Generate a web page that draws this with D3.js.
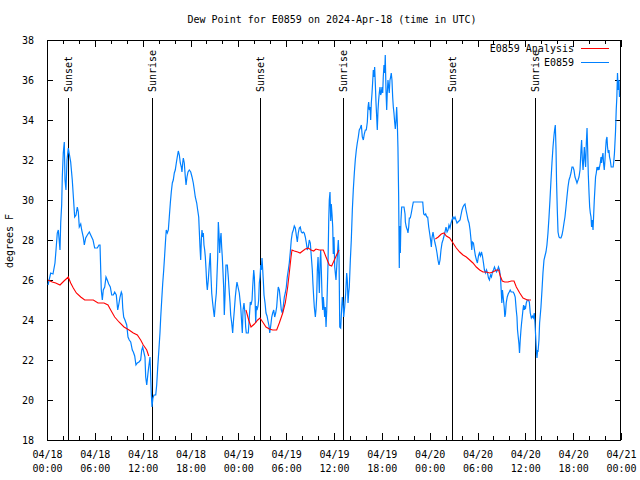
<!DOCTYPE html>
<html>
<head>
<meta charset="utf-8">
<script src="https://cdn.jsdelivr.net/npm/d3@7"></script>
<style>
  html, body { margin: 0; padding: 0; background: #fff; }
  svg { display: block; }
  text { font-family: "DejaVu Sans Mono", "Liberation Mono", monospace; font-size: 10px; fill: #000; }
</style>
</head>
<body>
<svg id="chart" width="640" height="480"></svg>
<script>
// ---------------- DATA ----------------
const titleText = "Dew Point for E0859 on 2024-Apr-18 (time in UTC)";
const yLabel = "degrees F";
const startUTC = Date.UTC(2024, 3, 18, 0, 0);   // 04/18 00:00 UTC
const endUTC = Date.UTC(2024, 3, 21, 0, 0);     // 04/21 00:00 UTC
const yTicks = [18, 20, 22, 24, 26, 28, 30, 32, 34, 36, 38];
const seriesNames = ["E0859 Analysis", "E0859"];

// sun events, hours after 04/18 00:00 UTC
const eventNames = ["Sunset", "Sunrise", "Sunset", "Sunrise", "Sunset", "Sunrise"];
const eventHours = [2.67, 13.21, 26.74, 37.18, 50.84, 61.25];

// observed dew point (E0859): hours after start, degrees F
const obsHours = [0.13,0.46,0.75,1.00,1.13,1.29,1.42,1.63,1.72,1.84,1.92,2.04,2.17,2.26,2.38,2.51,2.67,2.80,2.97,3.17,3.39,3.47,3.64,3.80,3.93,4.05,4.23,4.35,4.55,4.68,4.85,5.06,5.31,5.48,5.77,5.98,6.31,6.52,6.65,6.81,6.94,7.06,7.24,7.40,7.56,7.74,7.94,8.12,8.32,8.49,8.69,8.87,8.99,9.16,9.32,9.41,9.50,9.62,9.78,10.00,10.16,10.32,10.50,10.70,10.83,11.00,11.16,11.33,11.54,11.75,11.88,12.00,12.29,12.38,12.51,12.71,12.92,13.08,13.17,13.29,13.42,13.64,13.76,13.89,14.05,14.17,14.26,14.39,14.51,14.64,14.76,14.89,14.96,15.09,15.22,15.34,15.47,15.59,15.72,15.84,15.97,16.09,16.22,16.34,16.47,16.60,16.72,16.85,16.93,17.02,17.10,17.22,17.35,17.44,17.56,17.69,17.85,18.03,18.19,18.35,18.48,18.60,18.78,18.90,19.03,19.10,19.19,19.28,19.36,19.44,19.53,19.61,19.69,19.78,19.86,19.94,20.03,20.11,20.23,20.36,20.48,20.57,20.66,20.78,20.91,20.99,21.11,21.24,21.32,21.41,21.49,21.57,21.66,21.74,21.83,21.91,21.99,22.08,22.16,22.24,22.33,22.45,22.62,22.74,22.87,22.96,23.04,23.17,23.29,23.37,23.50,23.62,23.75,23.83,23.96,24.12,24.30,24.42,24.50,24.59,24.71,24.84,24.92,25.00,25.13,25.25,25.38,25.50,25.59,25.72,25.80,25.93,26.01,26.09,26.18,26.26,26.34,26.47,26.55,26.63,26.72,26.81,26.88,26.97,27.06,27.13,27.22,27.35,27.47,27.60,27.72,27.85,27.94,28.06,28.19,28.31,28.44,28.56,28.69,28.81,28.94,29.01,29.14,29.27,29.39,29.52,29.64,29.77,29.89,30.02,30.14,30.27,30.39,30.52,30.64,30.77,30.90,31.02,31.15,31.27,31.40,31.52,31.65,31.77,31.90,32.02,32.15,32.27,32.40,32.53,32.65,32.78,32.90,33.03,33.15,33.28,33.36,33.45,33.53,33.66,33.74,33.83,33.91,34.00,34.08,34.16,34.25,34.33,34.41,34.50,34.59,34.66,34.75,34.83,34.91,35.00,35.09,35.16,35.25,35.34,35.41,35.50,35.59,35.66,35.75,35.84,35.91,36.00,36.09,36.25,36.34,36.46,36.54,36.63,36.72,36.84,36.97,37.04,37.13,37.22,37.34,37.47,37.59,37.67,37.76,37.84,37.92,38.05,38.17,38.30,38.42,38.55,38.67,38.80,38.92,39.05,39.17,39.30,39.43,39.55,39.68,39.80,39.93,40.05,40.18,40.27,40.35,40.43,40.52,40.60,40.68,40.77,40.85,40.93,41.02,41.10,41.18,41.27,41.35,41.43,41.52,41.60,41.68,41.77,41.85,41.93,42.02,42.11,42.18,42.27,42.36,42.43,42.52,42.61,42.68,42.77,42.86,42.93,43.02,43.11,43.18,43.27,43.36,43.44,43.52,43.61,43.69,43.77,43.86,43.94,44.02,44.11,44.19,44.24,44.32,44.40,44.49,44.66,44.78,44.91,44.95,45.07,45.20,45.28,45.37,45.45,45.57,45.70,45.83,45.95,46.20,46.45,46.70,46.95,47.13,47.25,47.38,47.50,47.63,47.75,47.88,48.01,48.13,48.21,48.29,48.42,48.54,48.67,48.79,48.92,49.04,49.17,49.30,49.42,49.55,49.67,49.80,49.92,50.05,50.18,50.30,50.42,50.55,50.68,50.80,50.93,51.05,51.18,51.30,51.43,51.55,51.68,51.81,51.93,52.06,52.18,52.31,52.43,52.56,52.69,52.81,52.94,53.07,53.19,53.28,53.36,53.49,53.62,53.74,53.87,53.99,54.12,54.24,54.37,54.50,54.62,54.75,54.87,55.00,55.13,55.25,55.38,55.50,55.63,55.75,55.88,56.00,56.13,56.26,56.38,56.51,56.63,56.76,56.88,56.97,57.05,57.13,57.22,57.35,57.43,57.51,57.60,57.73,57.85,57.98,58.10,58.23,58.36,58.48,58.61,58.73,58.86,58.95,59.02,59.11,59.20,59.27,59.36,59.45,59.53,59.61,59.70,59.78,59.87,59.95,60.03,60.12,60.24,60.37,60.50,60.62,60.75,60.87,61.00,61.12,61.21,61.29,61.38,61.46,61.54,61.59,61.71,61.79,61.96,62.09,62.21,62.34,62.46,62.59,62.71,62.84,62.97,63.09,63.22,63.34,63.47,63.60,63.67,63.76,63.85,63.92,64.01,64.10,64.22,64.35,64.47,64.60,64.72,64.85,64.97,65.10,65.22,65.35,65.48,65.60,65.73,65.85,65.98,66.10,66.23,66.36,66.48,66.61,66.73,66.86,66.98,67.06,67.15,67.24,67.31,67.40,67.49,67.56,67.65,67.74,67.82,67.90,67.99,68.07,68.15,68.24,68.31,68.40,68.49,68.56,68.65,68.74,68.81,68.90,68.99,69.06,69.15,69.24,69.31,69.40,69.49,69.56,69.65,69.74,69.81,69.90,69.99,70.06,70.15,70.24,70.31,70.40,70.49,70.56,70.65,70.77,70.90,71.02,71.11,71.18,71.31,71.40,71.48,71.56,71.65,71.74,71.81];
const obsValues = [25.75,26.35,26.3,26.85,27.5,28.35,28.5,27.5,28.85,29.75,31.15,32.35,32.9,31.0,30.5,32.0,32.6,32.3,31.9,31.0,29.65,29.15,29.25,29.65,29.4,28.65,28.8,28.5,28.15,27.75,28.1,28.25,28.4,28.25,28.0,27.6,27.6,27.75,27.75,25.5,25.0,25.5,25.65,26.15,26.0,25.8,25.65,25.25,25.25,25.4,25.25,24.5,24.75,25.15,25.4,25.3,24.6,24.15,24.0,23.75,23.15,23.0,22.9,22.5,22.4,22.2,21.75,21.85,21.9,22.0,22.5,22.65,22.15,21.15,20.75,21.5,22.15,20.35,19.65,20.1,20.25,20.25,20.75,21.65,22.6,23.35,24.1,25.0,25.8,26.5,27.25,28.1,28.5,28.35,28.5,29.15,29.85,30.4,30.85,31.0,31.35,31.5,31.85,32.15,32.45,32.25,31.85,31.65,31.4,31.85,32.1,31.85,31.15,30.75,31.15,31.4,31.5,31.4,31.15,30.85,30.5,30.15,29.85,29.5,29.15,28.5,27.65,27.0,28.0,28.5,28.15,28.35,27.75,27.5,27.15,26.6,25.85,25.5,26.0,26.75,27.35,26.2,25.35,24.85,24.4,24.15,24.8,25.35,26.2,27.15,28.9,28.35,27.35,28.0,28.35,27.65,27.15,26.35,25.65,24.25,25.2,26.75,26.75,26.15,25.35,24.85,24.25,23.85,23.35,23.85,24.5,25.15,25.65,25.9,25.65,25.35,24.65,23.85,23.35,24.5,24.85,24.3,23.65,23.35,23.35,23.35,24.15,24.9,24.75,25.0,25.65,26.5,26.15,25.15,23.85,24.7,24.5,24.7,25.0,25.85,26.15,26.75,26.5,27.1,26.5,26.0,25.25,24.85,24.35,24.2,23.95,23.7,23.35,23.7,24.15,24.35,24.5,24.15,24.35,24.65,25.35,25.65,25.5,25.0,24.5,24.35,24.7,25.15,25.35,25.65,26.15,26.5,26.85,27.4,28.0,28.35,28.5,28.7,28.6,28.25,27.9,28.35,28.6,28.65,28.4,28.35,28.4,28.35,28.15,27.85,27.5,27.65,28.0,27.85,27.2,26.5,25.8,25.15,24.65,24.15,24.5,25.15,26.5,27.15,26.3,25.35,26.85,27.5,26.5,25.15,24.5,25.15,24.65,24.15,24.65,23.65,24.5,25.5,26.85,29.0,30.0,30.4,28.95,29.8,29.3,28.65,27.3,28.15,26.65,26.0,26.65,27.5,28.0,27.15,23.65,23.6,24.65,25.15,24.85,24.15,24.65,25.35,26.35,26.0,24.85,25.35,25.65,27.0,28.0,29.5,30.5,31.35,32.0,32.5,32.85,33.15,33.5,33.6,33.75,33.15,33.0,33.3,33.5,33.5,33.9,34.65,34.9,34.5,34.65,34.0,34.85,35.35,35.9,36.5,36.15,36.65,35.85,34.85,34.2,33.5,34.5,35.0,35.35,35.65,35.25,35.35,35.65,35.35,36.15,36.75,36.35,37.25,35.5,34.5,35.35,36.0,35.65,35.35,36.0,36.15,36.35,36.0,35.15,34.65,34.35,33.9,33.55,33.9,34.65,33.9,32.65,30.15,26.6,28.7,27.35,29.0,29.65,29.65,29.65,29.3,28.9,28.65,28.5,28.35,28.65,29.1,29.1,29.35,29.65,29.9,29.9,29.9,29.9,29.9,29.9,29.3,29.25,29.3,29.15,29.15,28.65,28.3,27.95,27.65,28.1,28.4,28.1,27.85,27.65,27.35,27.0,26.75,27.0,27.5,27.85,28.0,28.2,28.4,28.65,28.4,28.5,28.75,28.6,28.85,29.0,29.15,29.05,29.15,29.0,28.85,28.9,28.95,29.0,29.25,29.5,29.65,29.75,29.8,29.5,29.25,29.0,28.85,28.5,28.0,27.5,27.9,27.85,27.5,27.2,27.0,26.85,27.2,27.35,27.2,27.4,27.2,26.85,26.5,26.35,26.5,26.35,26.1,26.0,26.25,26.15,26.4,26.5,26.65,26.5,26.4,26.5,26.65,26.5,26.15,25.5,24.85,25.5,25.15,24.65,24.15,24.3,24.85,25.15,25.3,25.4,25.5,25.4,25.4,25.4,25.3,25.15,24.5,24.15,23.5,23.15,22.8,22.35,23.0,23.5,23.85,24.15,24.5,24.75,24.5,24.65,24.6,24.85,25.0,25.0,24.9,24.35,24.1,24.2,24.1,24.35,23.85,23.25,22.5,22.1,22.5,22.4,23.0,23.85,24.65,25.5,26.35,27.0,27.2,27.4,27.75,28.35,29.15,30.0,31.0,31.85,32.65,33.25,33.5,33.75,32.5,30.85,29.5,28.4,28.15,28.1,28.1,28.25,28.5,28.85,29.15,29.65,30.15,30.65,31.0,31.15,31.35,31.65,31.65,31.5,31.15,31.0,30.85,31.0,31.15,31.5,32.5,33.0,32.0,31.5,32.0,32.65,32.0,31.65,32.85,33.6,32.5,31.25,30.35,29.65,29.35,29.15,28.65,29.0,28.5,29.15,30.0,30.65,31.15,31.35,31.65,31.5,31.65,31.5,31.65,31.85,32.15,31.85,32.15,32.35,31.85,31.5,32.0,32.5,33.0,33.15,32.65,32.35,32.5,32.15,32.0,31.65,31.65,31.65,32.0,32.35,33.4,34.5,35.15,36.35,35.5,36.0,35.15];

// analysis dew point (E0859 Analysis): null marks gaps
const anaHours = [0.13,0.66,1.09,1.63,2.13,2.67,2.97,3.30,3.68,4.23,4.73,5.31,5.81,6.40,7.15,7.65,7.99,8.49,9.03,9.66,10.29,10.83,11.33,11.75,12.08,12.51,12.76,
  18.0,
  24.96,25.30,25.59,26.01,26.43,26.72,27.06,27.47,27.89,28.31,28.81,29.14,29.57,29.89,30.19,30.39,30.61,30.73,31.02,31.45,31.74,32.07,32.40,32.78,33.12,33.45,33.74,34.16,34.66,35.00,35.41,35.71,36.04,36.38,36.63,
  42.0,
  48.71,49.08,49.46,49.80,50.09,50.51,50.93,51.34,51.77,52.18,52.60,53.02,53.43,53.85,54.27,54.69,55.10,55.53,55.94,56.35,56.66,56.86,57.11,57.41,57.82,58.24,58.58,58.87,59.30,59.71,60.25,60.71];
const anaValues = [26.0,25.9,25.85,25.75,25.95,26.15,25.85,25.6,25.35,25.15,25.0,25.0,25.0,24.85,24.85,24.75,24.5,24.15,23.9,23.65,23.5,23.35,23.25,23.0,22.75,22.5,22.2,
  null,
  24.5,24.0,23.65,23.8,24.0,24.1,23.9,23.65,23.55,23.5,23.5,23.85,24.35,24.85,25.65,26.35,27.15,27.5,27.45,27.4,27.35,27.45,27.55,27.6,27.5,27.45,27.55,27.5,27.5,27.15,26.75,26.7,27.0,27.3,27.5,
  null,
  28.05,28.15,28.3,28.35,28.2,28.1,27.85,27.6,27.4,27.25,27.15,27.0,26.85,26.65,26.5,26.4,26.4,26.35,26.4,26.5,26.5,26.2,25.95,25.9,25.9,25.95,25.95,25.65,25.35,25.1,25.0,25.0];

const colorAnalysis = "#ff0000";
const colorObs = "#0080ff";

// ---------------- CHART ----------------
const svg = d3.select("#chart");
svg.append("rect").attr("width", 640).attr("height", 480).attr("fill", "#fff");

const L = 47, R = 621, T = 40, B = 440;
const hourToDate = h => new Date(startUTC + h * 3600 * 1000);

const x = d3.scaleUtc().domain([new Date(startUTC), new Date(endUTC)]).range([L, R]);
const y = d3.scaleLinear().domain([18, 38]).range([B, T]);

svg.append("defs").append("clipPath").attr("id", "clip")
  .append("rect").attr("x", L).attr("y", T).attr("width", R - L).attr("height", B - T);

// title
svg.append("text").attr("x", 332).attr("y", 23).attr("text-anchor", "middle").text(titleText);

// y label
svg.append("text").attr("transform", "translate(13,241) rotate(-90)")
  .attr("text-anchor", "middle").text(yLabel);

// x axis: minor ticks (2h), inward, bottom and top
const minorTicks = d3.utcHour.every(2).range(new Date(startUTC), new Date(endUTC + 1));
const majorTicks = d3.utcHour.every(6).range(new Date(startUTC), new Date(endUTC + 1));

const axMinB = d3.axisBottom(x).tickValues(minorTicks).tickSize(-4).tickFormat("");
const axMinT = d3.axisTop(x).tickValues(minorTicks).tickSize(-4).tickFormat("");
const fmtDate = d3.utcFormat("%m/%d"), fmtTime = d3.utcFormat("%H:%M");
const axMajB = d3.axisBottom(x).tickValues(majorTicks).tickSize(-7).tickPadding(17).tickFormat(d => fmtDate(d));
const axMajT = d3.axisTop(x).tickValues(majorTicks).tickSize(-7).tickFormat("");

function styleAxis(g) {
  g.select(".domain").remove();
  g.selectAll("line").attr("stroke", "#000").attr("shape-rendering", "crispEdges");
  g.selectAll("text").attr("font-family", "DejaVu Sans Mono").attr("font-size", 10);
}

svg.append("g").attr("transform", `translate(0,${B})`).call(axMinB).call(styleAxis);
svg.append("g").attr("transform", `translate(0,${T})`).call(axMinT).call(styleAxis);
const gxB = svg.append("g").attr("transform", `translate(0,${B})`).call(axMajB).call(styleAxis);
svg.append("g").attr("transform", `translate(0,${T})`).call(axMajT).call(styleAxis);

// two-line tick labels
gxB.selectAll(".tick text").each(function(d) {
  const t = d3.select(this);
  t.text(null).attr("y", 0).attr("dy", null);
  t.append("tspan").attr("x", 0).attr("y", 18).text(fmtDate(d));
  t.append("tspan").attr("x", 0).attr("y", 32).text(fmtTime(d));
});

// y axis, inward, left and right
const axYL = d3.axisLeft(y).tickValues(yTicks).tickSize(-6).tickPadding(13).tickFormat(d3.format("d"));
const axYR = d3.axisRight(y).tickValues(yTicks).tickSize(-6).tickFormat("");
svg.append("g").attr("transform", `translate(${L},0)`).call(axYL).call(styleAxis)
  .selectAll(".tick text").attr("dy", "0.35em");
svg.append("g").attr("transform", `translate(${R},0)`).call(axYR).call(styleAxis);

// plot border
svg.append("rect").attr("x", L + 0.5).attr("y", T + 0.5).attr("width", R - L - 1).attr("height", B - T)
  .attr("fill", "none").attr("stroke", "#000").attr("shape-rendering", "crispEdges");

// sunrise/sunset lines
const events = eventHours.map((h, i) => ({ date: hourToDate(h), name: eventNames[i] }));
const ev = svg.append("g");
ev.selectAll("line").data(events).join("line")
  .attr("x1", d => Math.round(x(d.date)) + 0.5).attr("x2", d => Math.round(x(d.date)) + 0.5)
  .attr("y1", 98).attr("y2", B)
  .attr("stroke", "#000").attr("stroke-width", 1).attr("shape-rendering", "crispEdges");
ev.selectAll("text").data(events).join("text")
  .attr("transform", d => `translate(${Math.round(x(d.date)) + 4},92) rotate(-90)`)
  .attr("text-anchor", "start").text(d => d.name);

// data lines
const obsData = obsHours.map((h, i) => ({ date: hourToDate(h), v: obsValues[i] }));
const anaData = anaHours.map((h, i) => ({ date: hourToDate(h), v: anaValues[i] }));
const line = d3.line().defined(d => d.v !== null).x(d => x(d.date)).y(d => y(d.v));

const plot = svg.append("g").attr("clip-path", "url(#clip)");
plot.append("path").datum(obsData).attr("d", line)
  .attr("fill", "none").attr("stroke", colorObs).attr("stroke-width", 1.2);
plot.append("path").datum(anaData).attr("d", line)
  .attr("fill", "none").attr("stroke", colorAnalysis).attr("stroke-width", 1.1);

// legend
const legend = svg.append("g");
const legendColors = [colorAnalysis, colorObs];
seriesNames.forEach((name, i) => {
  const yy = 48 + i * 14;
  legend.append("text").attr("x", 574).attr("y", yy + 4).attr("text-anchor", "end").text(name);
  legend.append("rect").attr("x", 581).attr("y", yy).attr("width", 28).attr("height", 1)
    .attr("fill", legendColors[i]);
});
</script>
</body>
</html>
